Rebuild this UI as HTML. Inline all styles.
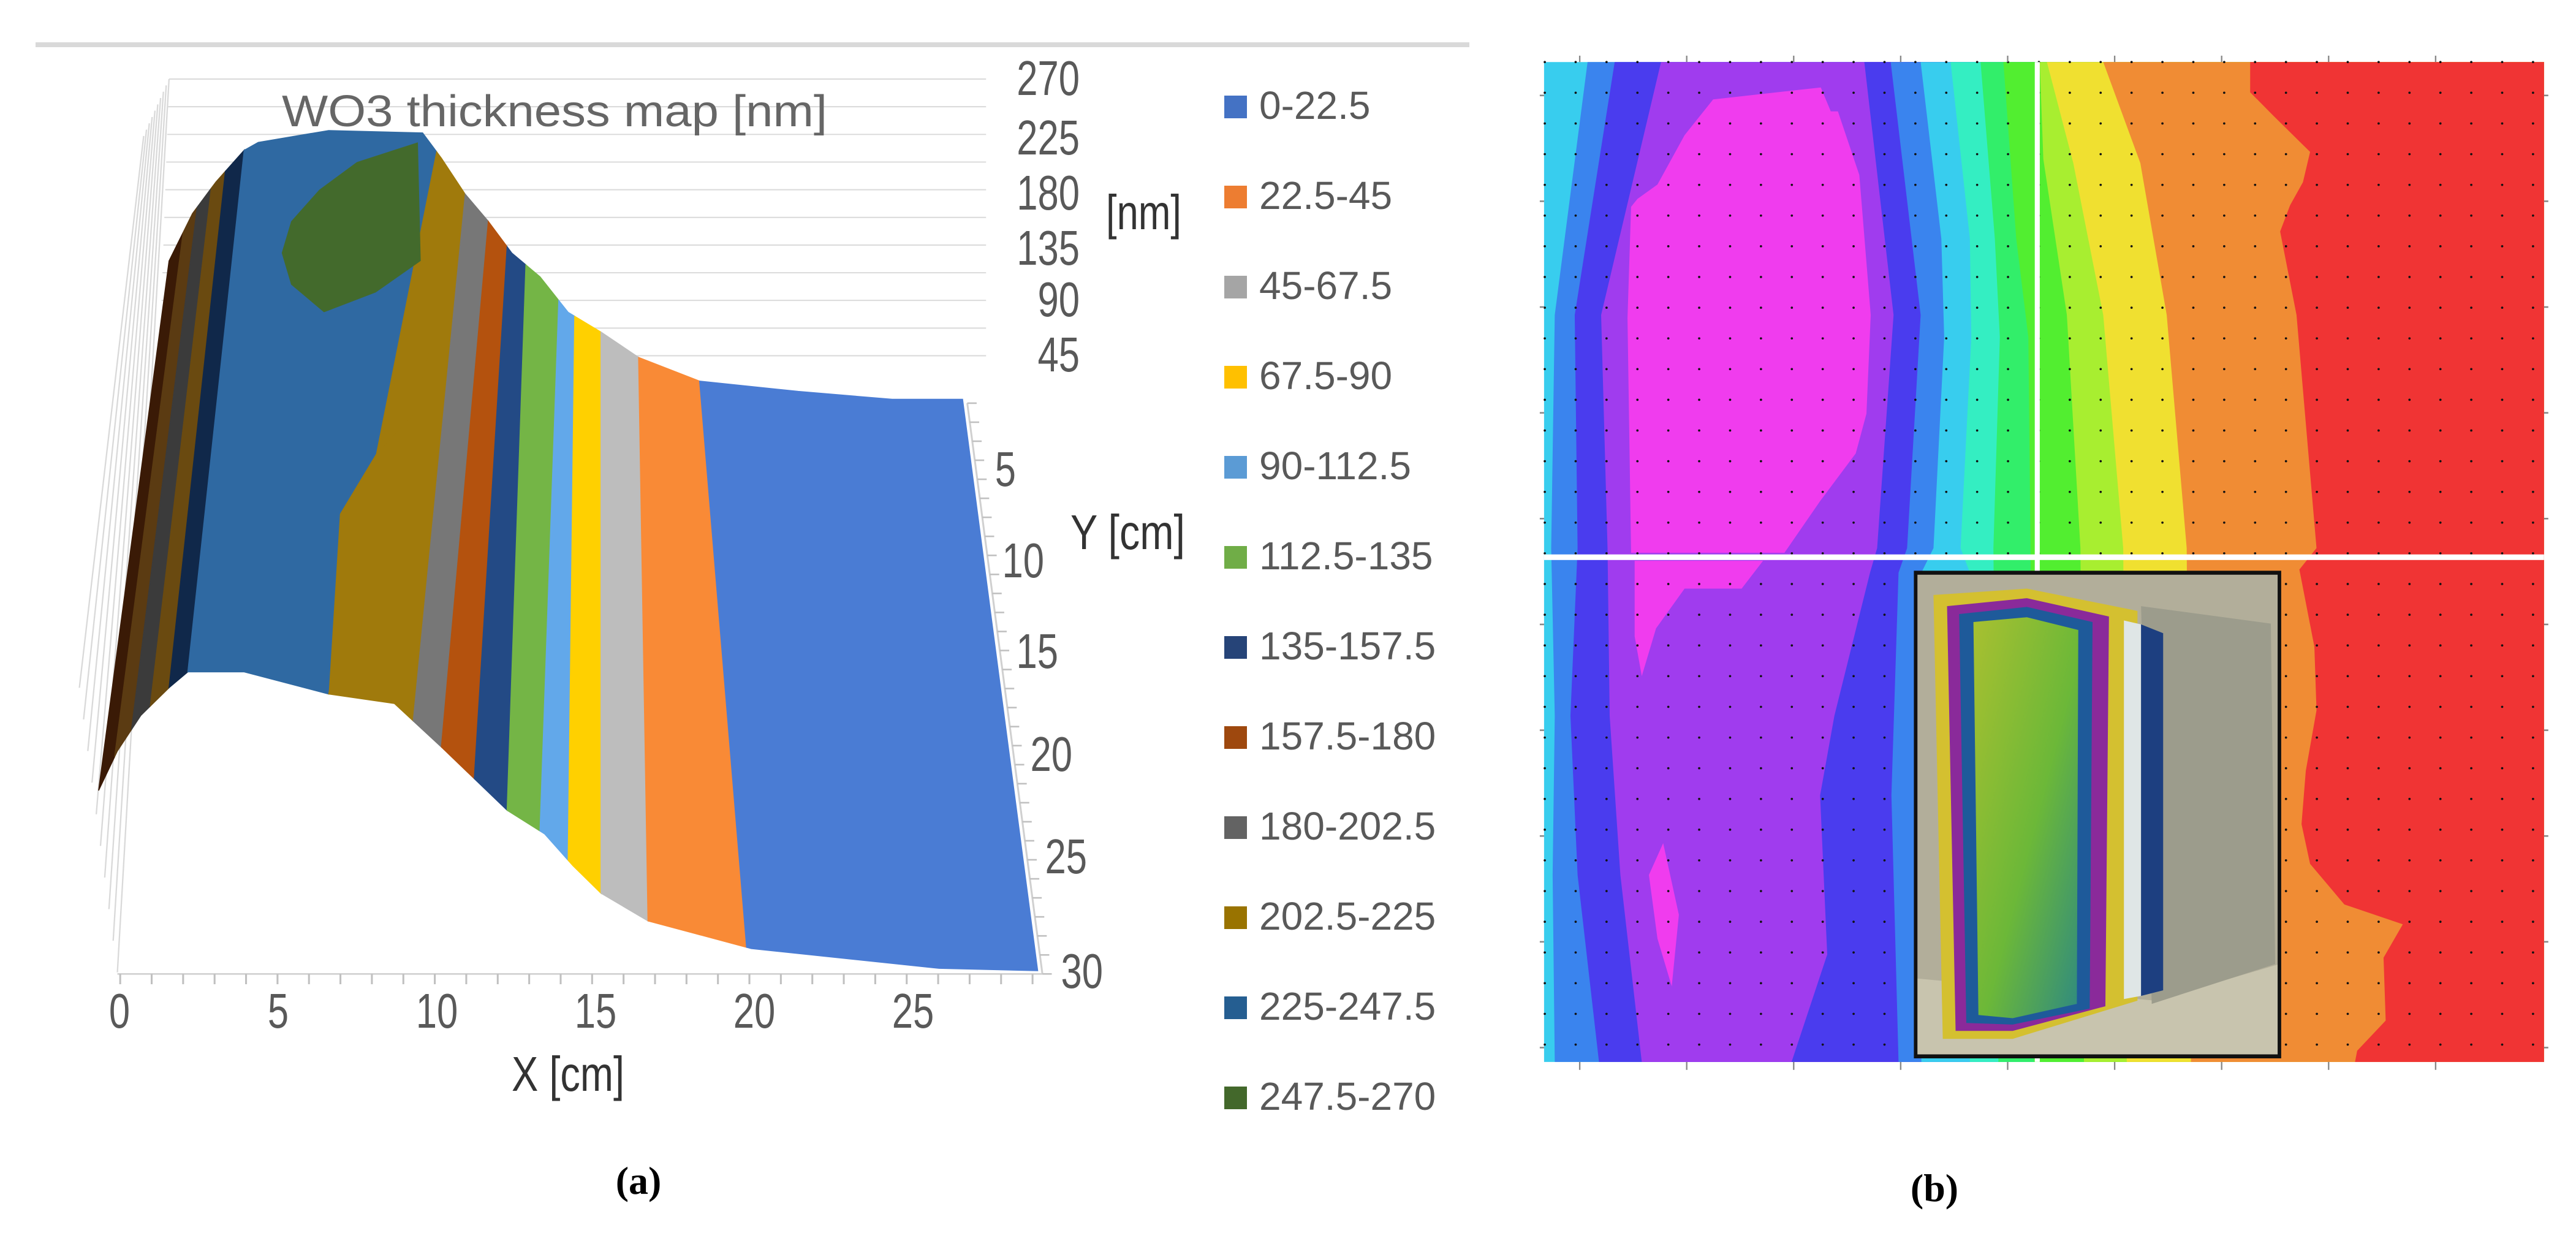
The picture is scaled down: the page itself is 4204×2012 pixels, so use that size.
<!DOCTYPE html>
<html><head><meta charset="utf-8"><title>WO3 thickness map</title>
<style>
html,body{margin:0;padding:0;background:#fff;}
svg{display:block;}
.lab{font-family:"Liberation Sans",sans-serif;fill:#595959;}
</style></head>
<body>
<svg id="fig" xmlns="http://www.w3.org/2000/svg" width="4204" height="2012" viewBox="0 0 4204 2012">
<rect width="4204" height="2012" fill="#fff"/>
<g id="panelA">
  <line x1="58" y1="73" x2="2398" y2="73" stroke="#d9d9d9" stroke-width="8"/>
  <g id="surf" transform="scale(1.5326,1.29)"></g>
  <text x="460" y="206" font-family="Liberation Sans, sans-serif" font-size="72" fill="#666" textLength="890" lengthAdjust="spacingAndGlyphs">WO3 thickness map [nm]</text>
  <g id="zticks"></g>
  <text class="lab" x="1805" y="374" font-size="80" textLength="123" lengthAdjust="spacingAndGlyphs" style="fill:#333">[nm]</text>
  <g id="yticks"></g>
  <text class="lab" x="1747" y="896" font-size="80" textLength="187" lengthAdjust="spacingAndGlyphs" style="fill:#333">Y [cm]</text>
  <g id="xticks"></g>
  <text class="lab" x="835" y="1780" font-size="80" textLength="184" lengthAdjust="spacingAndGlyphs" style="fill:#333">X [cm]</text>
  <g id="legend"></g>
  <text x="1042" y="1948" font-family="Liberation Serif, serif" font-weight="bold" font-size="64" text-anchor="middle">(a)</text>
</g>
<g id="panelB">
  <g id="contour" transform="translate(2400,0) scale(1.164,1.298)"></g>
  <text x="3157" y="1960" font-family="Liberation Serif, serif" font-weight="bold" font-size="64" text-anchor="middle">(b)</text>
</g>
</svg>
<script>
var NS="http://www.w3.org/2000/svg";
// ---- data ----
var legendLabels=["0-22.5","22.5-45","45-67.5","67.5-90","90-112.5","112.5-135","135-157.5","157.5-180","180-202.5","202.5-225","225-247.5","247.5-270"];
var legendColors=["#4472c4","#ed7d31","#a5a5a5","#ffc000","#5b9bd5","#70ad47","#264478","#9e480e","#636363","#997300","#255e91","#43682b"];
var zTicks=["270","225","180","135","90","45"];
var yTicks=["5","10","15","20","25","30"];
var xTicks=["0","5","10","15","20","25"];

function el(tag,attrs,parent){var e=document.createElementNS(NS,tag);for(var k in attrs)e.setAttribute(k,attrs[k]);parent.appendChild(e);return e;}
function narrow(t){return (t.length*0.556*80*0.77).toFixed(1);}

var zBase=[155,252,342,432,516,606];
var g=document.getElementById('zticks');
zTicks.forEach(function(t,i){var e=el('text',{x:1762,y:zBase[i],'font-size':80,'text-anchor':'end','class':'lab',textLength:narrow(t),lengthAdjust:'spacingAndGlyphs'},g);e.textContent=t;

});
var yR=[1658,1704,1727,1750,1774,1800],yB=[793,942,1090,1258,1425,1612];
g=document.getElementById('yticks');
yTicks.forEach(function(t,i){var e=el('text',{x:yR[i],y:yB[i],'font-size':80,'text-anchor':'end','class':'lab',textLength:narrow(t),lengthAdjust:'spacingAndGlyphs'},g);e.textContent=t;

});
g=document.getElementById('xticks');
function xPos(i){return 195+i*(1490-195)/5;}
xTicks.forEach(function(t,i){var e=el('text',{x:xPos(i),y:1677,'font-size':80,'text-anchor':'middle','class':'lab',textLength:narrow(t),lengthAdjust:'spacingAndGlyphs'},g);e.textContent=t;

});
g=document.getElementById('legend');
legendLabels.forEach(function(t,i){
 var y=156+i*147;
 var r=el('rect',{x:1998,y:y,width:37,height:37,fill:legendColors[i]},g);
 
 
 var e=el('text',{x:2055,y:y+38,'font-size':64,'font-family':'Liberation Sans, sans-serif',fill:'#595959'},g);e.textContent=t;
 
 
});

// ---- surface (zoom coords) ----
var S=document.getElementById('surf');
for(var i=0;i<11;i++){var yy=100+i*35;el('line',{x1:180-i*1,y1:yy,x2:1050,y2:yy,stroke:'#d9d9d9','stroke-width':1.5},S);}
for(var i=0;i<10;i++){el('line',{x1:180-i*3,y1:100+i*8,x2:125-i*4.5,y2:1230-i*40,stroke:'#d9d9d9','stroke-width':1.5},S);}
el('line',{x1:125,y1:1232,x2:1110,y2:1232,stroke:'#d0d0d0','stroke-width':2},S);
for(var i=0;i<=29;i++){var xx=128+i*33.5;el('line',{x1:xx,y1:1232,x2:xx,y2:1245,stroke:'#c0c0c0','stroke-width':2},S);}
el('line',{x1:1030,y1:510,x2:1110,y2:1232,stroke:'#d0d0d0','stroke-width':2},S);
for(var i=0;i<=30;i++){var t=i/30;el('line',{x1:1030+80*t,y1:510+722*t,x2:1040+80*t,y2:510+722*t,stroke:'#c0c0c0','stroke-width':2},S);}

var topC=[[180,330],[205,270],[230,230],[260,190],[275,180],[350,165],[450,168],[470,200],[495,245],[520,280],[545,320],[575,350],[605,395],[640,420],[680,452],[745,482],[850,495],[950,505],[1025,505]];
var botC=[[105,1000],[125,950],[150,905],[180,870],[200,850],[260,850],[350,878],[420,890],[470,945],[505,985],[540,1025],[580,1055],[610,1095],[640,1130],[690,1165],[800,1200],[1000,1225],[1105,1228]];
function at(p,x){for(var i=0;i<p.length-1;i++){if(x>=p[i][0]&&x<=p[i+1][0]){var t=(x-p[i][0])/(p[i+1][0]-p[i][0]||1);return p[i][1]+t*(p[i+1][1]-p[i][1]);}}return p[p.length-1][1];}
function sub(p,x0,x1){var r=[[x0,at(p,x0)]];p.forEach(function(q){if(q[0]>x0&&q[0]<x1)r.push(q);});r.push([x1,at(p,x1)]);return r;}
function band(t0,t1,b0,b1,c){var pts=sub(topC,t0,t1).concat(sub(botC,b0,b1).reverse());
 var e=el('polygon',{points:pts.map(function(q){return q.join(',')}).join(' '),fill:c,stroke:c,'stroke-width':1},S);
 
 }
var bands=[[180,195,105,122,'#3a1a06'],[195,210,122,140,'#5b3b12'],[210,225,140,160,'#3b3b3b'],[225,240,160,180,'#6a4a10'],[240,260,180,200,'#10284a'],
[260,465,200,350,'#2f69a2'],[465,495,350,440,'#a07a0c'],[495,520,440,470,'#777777'],[520,540,470,505,'#b4520e'],[540,560,505,540,'#234a85'],
[560,595,540,575,'#74b546'],[595,612,575,605,'#62a8ea'],[612,640,605,640,'#ffd000'],[640,680,640,690,'#bdbdbd'],[680,745,690,795,'#f98a36'],[745,1025,795,1105,'#4a7cd4']];
bands.forEach(function(b){band(b[0],b[1],b[2],b[3],b[4]);});
var gold=[[350,878],[362,650],[400,575],[440,525],[462,420],[468,200],[495,245],[440,905],[420,890]];
var e=el('polygon',{points:gold.map(function(q){return q.join(',')}).join(' '),fill:'#a07a0c'},S);


var blob=[[300,320],[310,280],[340,240],[380,205],[445,180],[448,330],[400,370],[345,395],[310,360]];
e=el('polygon',{points:blob.map(function(q){return q.join(',')}).join(' '),fill:'#436a2c'},S);



// ---- contour map (group coords) ----
var C=document.getElementById('contour');
var L=103,R=1505,T=78,B=1335;
function layer(pts,c){
 var all=pts.concat([[R,B],[R,T]]);
 var e=el('polygon',{points:all.map(function(q){return q.join(',')}).join(' '),fill:c},C);
 
 }
layer([[L,T],[L,B]],'#38cdee');
layer([[164,T],[118,396],[113,689],[118,900],[115,1100],[118,B]],'#3a84ee');
layer([[202,T],[146,396],[150,689],[140,900],[150,1100],[180,B]],'#4a3cee');
layer([[267,T],[183,396],[192,689],[195,900],[210,1100],[240,B]],'#a03cee');
layer([[552,T],[593,396],[570,689],[560,720],[510,900],[490,1000],[500,1200],[450,B]],'#4a3cee');
layer([[589,T],[631,396],[612,689],[600,720],[590,1000],[600,B]],'#3a84ee');
layer([[631,T],[660,300],[664,424],[649,689],[632,720],[632,B]],'#38cdee');
layer([[673,T],[700,300],[702,424],[687,689],[700,720],[700,B]],'#34eec2');
layer([[715,T],[735,300],[742,424],[733,689],[740,B]],'#32ee6a');
layer([[747,T],[765,300],[782,424],[785,689],[790,B]],'#52ee30');
layer([[798,T],[803,200],[836,396],[855,689],[860,B]],'#a8ee30');
layer([[808,T],[845,205],[887,396],[915,689],[920,B]],'#f0e030');
layer([[887,T],[939,205],[976,396],[1004,689],[1010,B]],'#f08c34');
layer([[1093,T],[1093,116],[1125,145],[1177,191],[1167,229],[1149,258],[1135,291],[1158,396],[1186,689],[1162,716],[1183,813],[1186,893],[1171,969],[1165,1036],[1177,1086],[1225,1137],[1307,1162],[1280,1204],[1283,1283],[1243,1321],[1240,B]],'#f03434');
function poly(pts,c,n){var e=el('polygon',{points:pts.map(function(q){return q.join(',')}).join(' '),fill:c},C);
 
 }
poly([[234,250],[262,232],[300,170],[340,125],[440,115],[491,110],[505,140],[515,140],[545,220],[561,396],[555,520],[540,570],[490,630],[440,695],[225,695],[220,400],[225,260]],'#f03cee','contour-peak-region');
poly([[230,705],[410,705],[380,740],[300,740],[260,790],[240,850],[230,800]],'#f03cee','contour-peak-region');
poly([[250,1100],[270,1060],[292,1150],[282,1240],[262,1180]],'#f03cee','contour-peak-region');
var d=el('g',{fill:'#111'},C);
for(var yy=78;yy<B+2;yy+=38.6){for(var xx=104;xx<R+2;xx+=43.3){el('ellipse',{cx:xx,cy:yy,rx:1.6,ry:1.4},d);}}


el('rect',{x:791,y:T,width:7,height:B-T,fill:'#fff'},C);
el('rect',{x:L,y:697,width:R-L,height:7,fill:'#fff'},C);
for(var i=0;i<10;i++){el('line',{x1:L-6,y1:120+i*133,x2:L,y2:120+i*133,stroke:'#888','stroke-width':2},C);el('line',{x1:R,y1:120+i*133,x2:R+6,y2:120+i*133,stroke:'#888','stroke-width':2},C);}
for(var i=0;i<9;i++){el('line',{x1:153+i*150,y1:B,x2:153+i*150,y2:B+10,stroke:'#888','stroke-width':2},C);el('line',{x1:153+i*150,y1:T-8,x2:153+i*150,y2:T,stroke:'#888','stroke-width':2},C);}
var P=el('g',{},C);


var defs=el('defs',{},C);
var lg=el('linearGradient',{id:'grn',x1:0,y1:0,x2:1,y2:1},defs);
el('stop',{offset:0,'stop-color':'#a8c030'},lg);el('stop',{offset:0.55,'stop-color':'#6cb838'},lg);el('stop',{offset:1,'stop-color':'#2f8a80'},lg);
el('rect',{x:624,y:720,width:510,height:608,fill:'#b2ae9a'},P);
el('polygon',{points:'624,1230 960,1258 1134,1212 1134,1328 624,1328',fill:'#c8c4ae'},P);
el('polygon',{points:'940,762 1122,784 1128,1212 955,1262',fill:'#9c9c8c'},P);
el('polygon',{points:'649,748 780,740 935,768 935,1258 760,1306 662,1306',fill:'#d4c030'},P);
el('polygon',{points:'668,762 780,752 895,775 890,1265 760,1296 680,1296',fill:'#8a2a9a'},P);
el('polygon',{points:'685,772 780,763 872,782 868,1268 760,1288 695,1286',fill:'#1e5a9a'},P);
el('polygon',{points:'705,782 780,776 852,792 850,1262 760,1280 712,1276',fill:'url(#grn)'},P);
el('polygon',{points:'916,780 940,785 940,1252 916,1256',fill:'#dfe6e6'},P);
el('polygon',{points:'940,785 971,796 971,1245 940,1252',fill:'#1d3f80'},P);
el('rect',{x:624,y:720,width:510,height:608,fill:'none',stroke:'#111','stroke-width':5},P);
</script>
</body></html>
